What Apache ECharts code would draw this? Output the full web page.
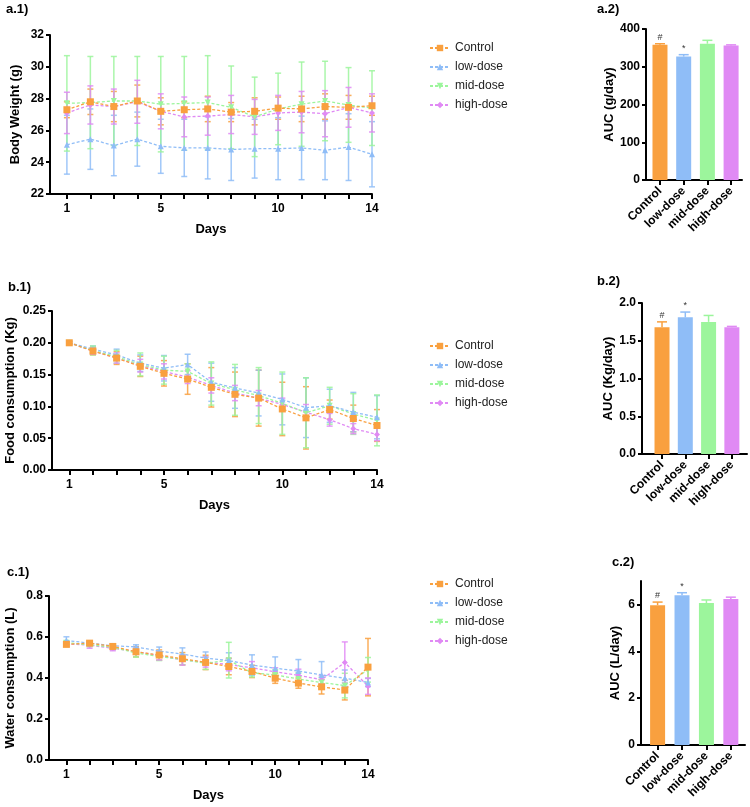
<!DOCTYPE html>
<html>
<head>
<meta charset="utf-8">
<script src="https://cdn.jsdelivr.net/npm/echarts@6.0.0/dist/echarts.min.js"></script>
<style>
  html, body { margin: 0; padding: 0; background: #fff; }
  #main { width: 750px; height: 807px; }
</style>
</head>
<body>
<div id="main"></div>
<script>
var days = [1, 2, 3, 4, 5, 6, 7, 8, 9, 10, 11, 12, 13, 14];
var dayLabels = [1, 5, 10, 14];
var groups = ['Control', 'low-dose', 'mid-dose', 'high-dose'];

// a.1 体重 (g)
var bwControl = [27.3, 27.8, 27.5, 27.85, 27.2, 27.3, 27.35, 27.15, 27.2, 27.4, 27.35, 27.5, 27.45, 27.55];
var bwControlSd = [0.5, 0.8, 0.95, 1.0, 0.85, 0.5, 0.8, 0.6, 0.85, 0.7, 0.8, 0.8, 0.75, 0.6];
var bwLow = [25.1, 25.45, 25.05, 25.45, 25.0, 24.9, 24.9, 24.8, 24.85, 24.85, 24.9, 24.75, 24.95, 24.5];
var bwLowSd = [1.85, 1.9, 1.9, 1.7, 1.7, 1.8, 1.95, 1.95, 1.85, 1.95, 2.0, 1.85, 2.1, 2.05];
var bwMid = [27.7, 27.75, 27.85, 27.85, 27.65, 27.7, 27.75, 27.45, 26.85, 27.35, 27.65, 27.85, 27.6, 27.4];
var bwMidSd = [3.0, 2.9, 2.8, 2.8, 3.0, 2.95, 2.95, 2.6, 2.5, 2.25, 2.65, 2.5, 2.35, 2.35];
var bwHigh = [27.1, 27.6, 27.5, 27.8, 27.2, 26.85, 26.9, 27.0, 26.85, 27.1, 27.15, 27.05, 27.45, 27.1];
var bwHighSd = [1.3, 1.2, 1.1, 1.35, 1.1, 1.25, 1.2, 1.2, 1.1, 1.1, 1.3, 1.45, 1.25, 1.2];

// b.1 食物消耗 (Kg)
var fcControl = [0.200, 0.187, 0.176, 0.163, 0.152, 0.143, 0.130, 0.119, 0.113, 0.096, 0.082, 0.095, 0.081, 0.070];
var fcControlSd = [0.002, 0.006, 0.01, 0.016, 0.02, 0.024, 0.031, 0.035, 0.044, 0.042, 0.049, 0.015, 0.021, 0.025];
var fcLow = [0.200, 0.190, 0.181, 0.168, 0.160, 0.166, 0.138, 0.129, 0.121, 0.111, 0.098, 0.101, 0.091, 0.083];
var fcLowSd = [0.002, 0.005, 0.009, 0.013, 0.02, 0.016, 0.03, 0.032, 0.036, 0.04, 0.047, 0.026, 0.031, 0.034];
var fcMid = [0.200, 0.188, 0.178, 0.166, 0.157, 0.155, 0.136, 0.126, 0.117, 0.105, 0.090, 0.101, 0.088, 0.078];
var fcMidSd = [0.002, 0.007, 0.01, 0.018, 0.022, 0.012, 0.034, 0.04, 0.044, 0.049, 0.055, 0.029, 0.032, 0.04];
var fcHigh = [0.200, 0.187, 0.176, 0.164, 0.155, 0.146, 0.133, 0.121, 0.113, 0.103, 0.091, 0.079, 0.065, 0.056];
var fcHighSd = [0.002, 0.005, 0.008, 0.01, 0.012, 0.01, 0.012, 0.012, 0.012, 0.01, 0.012, 0.01, 0.008, 0.01];

// c.1 饮水量 (L)
var wcControl = [0.564, 0.570, 0.554, 0.528, 0.512, 0.494, 0.476, 0.456, 0.432, 0.399, 0.375, 0.357, 0.341, 0.453];
var wcControlSd = [0.01, 0.008, 0.01, 0.025, 0.025, 0.03, 0.035, 0.04, 0.03, 0.025, 0.025, 0.035, 0.048, 0.14];
var wcLow = [0.583, 0.570, 0.557, 0.552, 0.531, 0.517, 0.497, 0.485, 0.463, 0.448, 0.434, 0.415, 0.399, 0.378];
var wcLowSd = [0.018, 0.008, 0.01, 0.01, 0.02, 0.03, 0.03, 0.038, 0.05, 0.055, 0.056, 0.065, 0.04, 0.02];
var wcMid = [0.572, 0.562, 0.550, 0.522, 0.505, 0.490, 0.472, 0.487, 0.425, 0.415, 0.395, 0.378, 0.363, 0.440];
var wcMidSd = [0.01, 0.01, 0.012, 0.02, 0.02, 0.025, 0.03, 0.087, 0.02, 0.025, 0.03, 0.025, 0.06, 0.06];
var wcHigh = [0.567, 0.560, 0.545, 0.530, 0.508, 0.488, 0.478, 0.465, 0.450, 0.430, 0.413, 0.392, 0.476, 0.360];
var wcHighSd = [0.01, 0.015, 0.012, 0.015, 0.02, 0.025, 0.025, 0.03, 0.03, 0.02, 0.03, 0.02, 0.1, 0.04];

// AUC 柱状图
var aucBw = [358, 327, 361, 356];
var aucBwErr = [3, 5, 9, 2];
var aucFc = [1.68, 1.81, 1.75, 1.68];
var aucFcErr = [0.07, 0.07, 0.085, 0.01];
var aucWc = [5.97, 6.39, 6.06, 6.23];
var aucWcErr = [0.13, 0.11, 0.13, 0.08];
var aucMarks = ['#', '*', '', ''];
var wcAucTicks = [0, 2, 4, 6];

var colors = ['#F9A03F', '#8FBDF7', '#9CF59C', '#E08AF4'];
var symbols = ['rect', 'triangle', 'triangle', 'diamond'];
var symbolSizes = [7, 6, 6, 6];
var symbolRotates = [0, 0, 180, 0];
var FONT = 'Liberation Sans, Arial, sans-serif';

var myChart = echarts.init(document.getElementById('main'), null, {renderer: 'canvas'});

// 把两个数组拼成 [x, y] 点
function pairs(xs, ys) {
    var out = [];
    for (var i = 0; i < ys.length; i++) {
        out.push([xs[i], ys[i]]);
    }
    return out;
}
function triples(xs, ys, sd) {
    var out = [];
    for (var i = 0; i < ys.length; i++) {
        out.push([xs[i], ys[i], sd[i]]);
    }
    return out;
}

// 折线图的上下误差线
function errLine(color) {
    return function (params, api) {
        var x = api.value(0), m = api.value(1), s = api.value(2);
        var hi = api.coord([x, m + s]);
        var lo = api.coord([x, m - s]);
        var w = 3;
        var st = {stroke: color, lineWidth: 1.5, opacity: 0.85};
        return {
            type: 'group',
            children: [
                {type: 'line', shape: {x1: hi[0], y1: hi[1], x2: lo[0], y2: lo[1]}, style: st},
                {type: 'line', shape: {x1: hi[0] - w, y1: hi[1], x2: hi[0] + w, y2: hi[1]}, style: st},
                {type: 'line', shape: {x1: lo[0] - w, y1: lo[1], x2: lo[0] + w, y2: lo[1]}, style: st}
            ]
        };
    };
}

// 柱状图只画上方误差线，并加显著性标记
function errBar(params, api) {
    var x = api.value(0), m = api.value(1), e = api.value(2);
    var top = api.coord([x, m + e]);
    var base = api.coord([x, m]);
    var color = colors[params.dataIndex];
    var w = 5;
    var st = {stroke: color, lineWidth: 1.5};
    return {
        type: 'group',
        children: [
            {type: 'line', shape: {x1: top[0], y1: top[1], x2: base[0], y2: base[1]}, style: st},
            {type: 'line', shape: {x1: top[0] - w, y1: top[1], x2: top[0] + w, y2: top[1]}, style: st},
            {type: 'text', x: top[0], y: top[1] - 2, style: {
                text: aucMarks[params.dataIndex], fill: '#333', font: '9px ' + FONT,
                align: 'center', verticalAlign: 'bottom'
            }}
        ]
    };
}

var axisLineStyle = {show: true, lineStyle: {color: '#000', width: 2}};
var tickStyle = {color: '#000', width: 2};
var labelStyle = {color: '#000', fontSize: 12, fontWeight: 'bold', fontFamily: FONT};
var nameStyle = {color: '#000', fontSize: 13, fontWeight: 'bold', fontFamily: FONT};

function dayAxis(gi, min) {
    return {
        gridIndex: gi, type: 'value', min: min, max: 14,
        name: 'Days', nameLocation: 'middle', nameGap: 29, nameTextStyle: nameStyle,
        axisLine: axisLineStyle,
        axisTick: {show: true, customValues: days, length: 5, lineStyle: tickStyle},
        axisLabel: Object.assign({customValues: dayLabels, margin: 9}, labelStyle),
        splitLine: {show: false}
    };
}
function groupAxis(gi, min, max) {
    return {
        gridIndex: gi, type: 'value', min: min, max: max,
        axisLine: axisLineStyle,
        axisTick: {show: true, customValues: [1, 2, 3, 4], length: 5, lineStyle: tickStyle},
        axisLabel: Object.assign({
            customValues: [1, 2, 3, 4], rotate: 45, margin: 9,
            formatter: function (v) { return groups[Math.round(v) - 1]; }
        }, labelStyle),
        splitLine: {show: false}
    };
}
function valAxis(gi, min, max, step, name, gap, dec, ticks) {
    var ax = {
        gridIndex: gi, type: 'value', min: min, max: max, interval: step,
        name: name, nameLocation: 'middle', nameGap: gap, nameTextStyle: nameStyle,
        axisLine: axisLineStyle,
        axisTick: {show: true, length: 4, lineStyle: tickStyle},
        axisLabel: Object.assign({
            margin: 6,
            formatter: function (v) { return dec < 0 ? String(v) : v.toFixed(dec); }
        }, labelStyle),
        splitLine: {show: false}
    };
    if (ticks) {
        ax.axisTick.customValues = ticks;
        ax.axisLabel.customValues = ticks;
    }
    return ax;
}

var series = [];
function addLinePanel(gi, sets) {
    var i;
    for (i = 0; i < 4; i++) {
        series.push({
            type: 'custom', xAxisIndex: gi, yAxisIndex: gi, z: 2,
            renderItem: errLine(colors[i]), data: triples(days, sets[i][0], sets[i][1])
        });
    }
    for (i = 3; i >= 0; i--) {
        series.push({
            name: groups[i], type: 'line', xAxisIndex: gi, yAxisIndex: gi, z: 3 + (3 - i),
            data: pairs(days, sets[i][0]),
            symbol: symbols[i], symbolSize: symbolSizes[i], symbolRotate: symbolRotates[i],
            itemStyle: {color: colors[i]},
            lineStyle: {color: colors[i], width: 1.3, type: [3, 2]},
            animation: false
        });
    }
}
function addBarPanel(gi, vals, errs) {
    var data = [], errData = [];
    for (var i = 0; i < vals.length; i++) {
        data.push({value: [i + 1, vals[i]], itemStyle: {color: colors[i]}});
        errData.push([i + 1, vals[i], errs[i]]);
    }
    series.push({type: 'bar', xAxisIndex: gi, yAxisIndex: gi, barWidth: 15, data: data});
    series.push({type: 'custom', xAxisIndex: gi, yAxisIndex: gi, z: 3, renderItem: errBar, data: errData});
}

addLinePanel(0, [[bwControl, bwControlSd], [bwLow, bwLowSd], [bwMid, bwMidSd], [bwHigh, bwHighSd]]);
addLinePanel(1, [[fcControl, fcControlSd], [fcLow, fcLowSd], [fcMid, fcMidSd], [fcHigh, fcHighSd]]);
addLinePanel(2, [[wcControl, wcControlSd], [wcLow, wcLowSd], [wcMid, wcMidSd], [wcHigh, wcHighSd]]);
addBarPanel(3, aucBw, aucBwErr);
addBarPanel(4, aucFc, aucFcErr);
addBarPanel(5, aucWc, aucWcErr);

function legendAt(top) {
    return {
        data: groups, orient: 'vertical', left: 424, top: top,
        itemWidth: 20, itemHeight: 8, itemGap: 7,
        textStyle: {color: '#222', fontSize: 12, fontFamily: FONT},
        selectedMode: false
    };
}
function panelTitle(txt, x, y) {
    return {
        type: 'text', x: x, y: y,
        style: {text: txt, fill: '#000', font: 'bold 13px ' + FONT, verticalAlign: 'middle'}
    };
}

var option = {
    backgroundColor: '#fff',
    animation: false,
    grid: [
        {left: 50, top: 35, width: 322, height: 159, outerBoundsMode: 'none'},
        {left: 52, top: 311, width: 325, height: 159, outerBoundsMode: 'none'},
        {left: 49, top: 596, width: 319, height: 164, outerBoundsMode: 'none'},
        {left: 646, top: 29, width: 96, height: 151, outerBoundsMode: 'none'},
        {left: 642, top: 303, width: 105, height: 151, outerBoundsMode: 'none'},
        {left: 641, top: 581, width: 104, height: 164, outerBoundsMode: 'none'}
    ],
    xAxis: [
        dayAxis(0, 0.28), dayAxis(1, 0.27), dayAxis(2, 0.25),
        groupAxis(3, 0.41, 4.46), groupAxis(4, 0.14, 4.65), groupAxis(5, 0.32, 4.58)
    ],
    yAxis: [
        valAxis(0, 22, 32, 2, 'Body Weight (g)', 28, -1),
        valAxis(1, 0, 0.25, 0.05, 'Food consumption (Kg)', 35, 2),
        valAxis(2, 0, 0.8, 0.2, 'Water consumption (L)', 32, 1),
        valAxis(3, 0, 400, 100, 'AUC (g/day)', 29, -1),
        valAxis(4, 0, 2, 0.5, 'AUC (Kg/day)', 23, 1),
        valAxis(5, 0, 7, 2, 'AUC (L/day)', 19, -1, wcAucTicks)
    ],
    legend: [legendAt(37), legendAt(335), legendAt(573)],
    graphic: [
        panelTitle('a.1)', 6, 9), panelTitle('a.2)', 597, 9),
        panelTitle('b.1)', 8, 287), panelTitle('b.2)', 597, 281),
        panelTitle('c.1)', 7, 572), panelTitle('c.2)', 612, 562)
    ],
    series: series
};

myChart.setOption(option);
</script>
</body>
</html>
